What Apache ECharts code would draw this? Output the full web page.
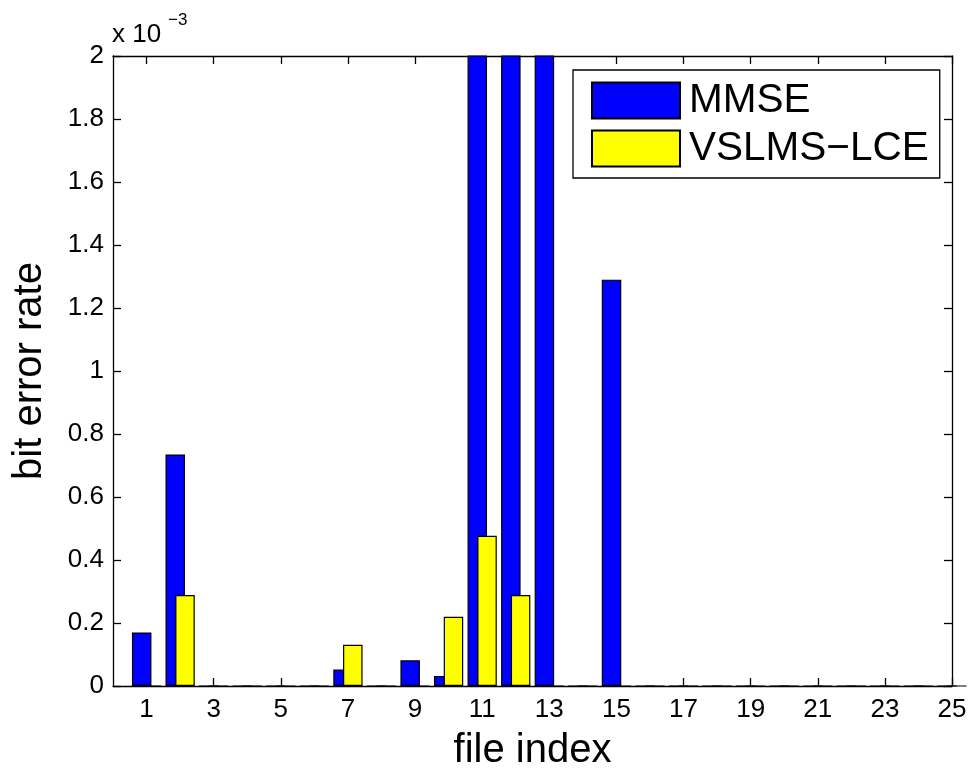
<!DOCTYPE html>
<html>
<head>
<meta charset="utf-8">
<script src="https://cdn.jsdelivr.net/npm/echarts@6/dist/echarts.min.js"></script>
<style>
  html, body { margin: 0; padding: 0; background: #fff; }
  #chart { width: 971px; height: 771px; }
</style>
</head>
<body>
<div id="chart"></div>
<script>
// File indices (categories)
const fileIndex = [1,2,3,4,5,6,7,8,9,10,11,12,13,14,15,16,17,18,19,20,21,22,23,24,25];
// Bit error rate in units of 1e-3 (files 11-13 for MMSE exceed the axis and are clipped)
const mmse     = [0.17,0.735,0,0,0,0,0.052,0,0.0815,0.032,2.5,2.5,2.5,0,1.29,0,0,0,0,0,0,0,0,0,0];
const vslmsLce = [0,0.289,0,0,0,0,0.131,0,0,0.22,0.477,0.289,0,0,0,0,0,0,0,0,0,0,0,0,0];
// Tick labels
const xTickLabels = [1,3,5,7,9,11,13,15,17,19,21,23,25];
const seriesNames = ['MMSE', 'VSLMS\u2212LCE'];

const FONT = "'Liberation Sans', Arial, Helvetica, sans-serif";
const chart = echarts.init(document.getElementById('chart'), null, { renderer: 'canvas' });

const axisLineStyle = { color: '#000', width: 1.3 };

const option = {
  backgroundColor: '#fff',
  animation: false,
  textStyle: { fontFamily: FONT },
  grid: { left: 113, top: 56, right: 19, bottom: 85, containLabel: false, outerBoundsMode: 'none' },
  graphic: [
    { type: 'text', left: 112, top: 22, style: { text: 'x 10', font: '26px ' + FONT, fill: '#000' } },
    { type: 'text', left: 168, top: 12, style: { text: '\u22123', font: '17px ' + FONT, fill: '#000' } }
  ],
  legend: {
    orient: 'vertical',
    left: 573,
    top: 70,
    align: 'left',
    itemWidth: 88,
    itemHeight: 36,
    itemGap: 7,
    padding: [10, 11, 9, 18],
    backgroundColor: '#fff',
    borderColor: '#000',
    borderWidth: 1.3,
    borderRadius: 0,
    icon: 'rect',
    selectedMode: false,
    textStyle: { fontFamily: FONT, fontSize: 40.5, color: '#000', padding: [0, 0, 0, 4] },
    data: seriesNames
  },
  xAxis: [
    {
      type: 'value', min: 0, max: 25, interval: 1, position: 'bottom',
      name: 'file index', nameLocation: 'middle', nameGap: 45,
      nameTextStyle: { fontFamily: FONT, fontSize: 40, color: '#000' },
      axisLine: { show: true, onZero: false, lineStyle: axisLineStyle },
      axisTick: { show: true, inside: true, length: 8, lineStyle: axisLineStyle, customValues: xTickLabels },
      axisLabel: { show: true, fontFamily: FONT, fontSize: 26, color: '#000', margin: 11, customValues: xTickLabels },
      splitLine: { show: false }
    },
    {
      type: 'value', min: 0, max: 25, interval: 1, position: 'top',
      axisLine: { show: true, onZero: false, lineStyle: axisLineStyle },
      axisTick: { show: true, inside: true, length: 8, lineStyle: axisLineStyle, customValues: xTickLabels },
      axisLabel: { show: false },
      splitLine: { show: false }
    }
  ],
  yAxis: [
    {
      type: 'value', min: 0, max: 2, interval: 0.2, position: 'left',
      name: 'bit error rate', nameLocation: 'middle', nameGap: 63, nameRotate: 90,
      nameTextStyle: { fontFamily: FONT, fontSize: 40, color: '#000' },
      axisLine: { show: true, onZero: false, lineStyle: axisLineStyle },
      axisTick: { show: true, inside: true, length: 8, lineStyle: axisLineStyle },
      axisLabel: { fontFamily: FONT, fontSize: 26, color: '#000', margin: 9,
        formatter: v => String(+v.toFixed(1)) },
      splitLine: { show: false }
    },
    {
      type: 'value', min: 0, max: 2, interval: 0.2, position: 'right',
      axisLine: { show: true, onZero: false, lineStyle: axisLineStyle },
      axisTick: { show: true, inside: true, length: 8, lineStyle: axisLineStyle },
      axisLabel: { show: false },
      splitLine: { show: false }
    }
  ],
  series: [
    {
      name: seriesNames[0], type: 'bar', xAxisIndex: 0, yAxisIndex: 0,
      barWidth: 19.5, barGap: '-50%', clip: true,
      itemStyle: { color: '#0000ff', borderColor: '#000', borderWidth: 1.2 },
      data: fileIndex.map((x, i) => [x, mmse[i]])
    },
    {
      name: seriesNames[1], type: 'bar', xAxisIndex: 0, yAxisIndex: 0,
      barWidth: 19.5, barGap: '-50%', clip: true,
      itemStyle: { color: '#ffff00', borderColor: '#000', borderWidth: 1.2 },
      data: fileIndex.map((x, i) => [x, vslmsLce[i]])
    }
  ]
};
chart.setOption(option);
</script>
</body>
</html>
